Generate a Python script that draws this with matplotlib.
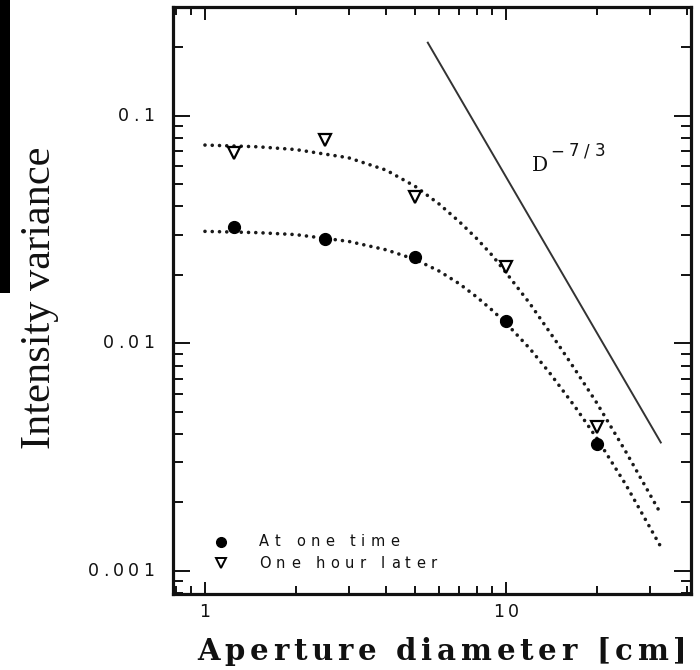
import matplotlib
matplotlib.use("Agg")
import matplotlib.pyplot as plt
from matplotlib.font_manager import FontProperties, findfont
from matplotlib.ft2font import FT2Font
from matplotlib.patches import Rectangle
from matplotlib.ticker import LogLocator, NullFormatter

# Measured intensity variance against aperture diameter
aperture_cm = [1.25, 2.5, 5.0, 10.0, 20.0]
var_at_one_time = [0.0324, 0.0287, 0.0239, 0.0125, 0.00363]
var_one_hour_later = [0.0687, 0.0784, 0.0440, 0.0216, 0.00431]

# Model curves (dotted)
fit_d_low = [1.0, 1.5, 2.0, 3.0, 4.0, 5.0, 6.0, 7.0, 8.0, 9.0, 10.0, 12.0, 14.0,
             17.0, 20.0, 25.0, 33.0]
fit_at_one_time = [0.0311, 0.0307, 0.0301, 0.0281, 0.0258, 0.0234, 0.0208, 0.0183,
                   0.0160, 0.0140, 0.0123, 0.0095, 0.0074, 0.00525, 0.00385,
                   0.00240, 0.00125]
fit_d_high = [1.0, 1.5, 2.0, 3.0, 4.0, 5.0, 6.0, 7.0, 8.0, 9.0, 10.0, 12.0, 15.0,
              17.0, 20.0, 25.0, 32.2]
fit_one_hour_later = [0.0745, 0.0732, 0.0712, 0.0655, 0.0578, 0.0490, 0.0410, 0.0343,
                      0.0289, 0.0244, 0.0205, 0.0150, 0.0098, 0.00765, 0.0055,
                      0.00335, 0.00185]

# Kolmogorov reference slope
ref_d = [5.5, 32.7]
ref_var = [0.21, 0.00367]

x_ticks = [1, 10]
x_tick_labels = ["1", "10"]
y_ticks = [0.001, 0.01, 0.1]
y_tick_labels = ["0.001", "0.01", "0.1"]

legend_labels = ["At one time", "One hour later"]

W, H, DPI = 700, 670, 100
fig = plt.figure(figsize=(W / DPI, H / DPI), dpi=DPI)
fig.patch.set_facecolor("white")

ax = fig.add_axes([173 / W, 1 - 594 / H, (691 - 173) / W, (594 - 7) / H])
ax.set_xscale("log")
ax.set_yscale("log")
ax.set_xlim(0.783, 41.2)
ax.set_ylim(0.000792, 0.3013)

ink = "#111111"
for s in ax.spines.values():
    s.set_linewidth(2.3)
    s.set_color(ink)

ax.xaxis.set_major_locator(LogLocator(base=10, numticks=10))
ax.xaxis.set_minor_locator(LogLocator(base=10, subs=range(2, 10), numticks=10))
ax.yaxis.set_major_locator(LogLocator(base=10, numticks=10))
ax.yaxis.set_minor_locator(LogLocator(base=10, subs=range(2, 10), numticks=10))
for axis in (ax.xaxis, ax.yaxis):
    axis.set_major_formatter(NullFormatter())
    axis.set_minor_formatter(NullFormatter())
ax.tick_params(which="both", direction="in", top=True, right=True, color=ink, width=1.4)
ax.tick_params(axis="x", which="major", length=9)
ax.tick_params(axis="x", which="minor", length=5.5)
ax.tick_params(axis="y", which="major", length=12)
ax.tick_params(axis="y", which="minor", length=7)

dot_style = dict(color="#1a1a1a", linewidth=2.6, linestyle=(0, (0.01, 2.0)),
                 dash_capstyle="round")
ax.plot(fit_d_low, fit_at_one_time, **dot_style)
ax.plot(fit_d_high, fit_one_hour_later, **dot_style)
ax.plot(ref_d, ref_var, color="#333333", linewidth=1.4)

ax.plot(aperture_cm, var_at_one_time, linestyle="none", marker="o", markersize=8.5,
        color="black")
ax.plot(aperture_cm, var_one_hour_later, linestyle="none", marker="v", markersize=8,
        markerfacecolor="white", markeredgecolor="black", markeredgewidth=1.6)


def tracked(x, y, s, size, family, weight="normal", track=0.0, width=None,
            ha="left", va="center", color=ink):
    """Draw text in figure pixel coordinates with extra letter spacing."""
    prop = FontProperties(family=family, size=size, weight=weight)
    font = FT2Font(findfont(prop))
    font.set_size(size, DPI)
    adv = [font.load_char(ord(c)).linearHoriAdvance / 65536 for c in s]
    if width is not None and len(s) > 1:
        track = (width - sum(adv)) / (len(s) - 1)
    total = sum(adv) + track * (len(s) - 1)
    pos = x - {"left": 0, "center": total / 2, "right": total}[ha]
    for c, a in zip(s, adv):
        if c != " ":
            fig.text(pos / W, 1 - y / H, c, fontproperties=prop, ha="left", va=va,
                     color=color)
        pos += a + track


# Tick labels placed through the axes' data transform
for v, lab in zip(y_ticks, y_tick_labels):
    px, py = ax.transData.transform((ax.get_xlim()[0], v))
    tracked(px - 19, H - py, lab, 12.5, "DejaVu Sans", track=4.2, ha="right")
for v, lab in zip(x_ticks, x_tick_labels):
    px, py = ax.transData.transform((v, ax.get_ylim()[0]))
    tracked(px, H - py + 18, lab, 12.5, "DejaVu Sans", track=4.2, ha="center")

# Legend
for i, lab in enumerate(legend_labels):
    lx, ly = 221, 542 + 21 * i
    dx, dy = ax.transData.inverted().transform((lx, H - ly))
    if i == 0:
        ax.plot([dx], [dy], marker="o", markersize=7, color="black", linestyle="none")
    else:
        ax.plot([dx], [dy], marker="v", markersize=7, markerfacecolor="white",
                markeredgecolor="black", markeredgewidth=1.4, linestyle="none")
    tracked(259, ly, lab, 10.5, "DejaVu Sans", track=5.5, ha="left")

# Slope annotation
ax.text(12.97, 0.0608, "D", family="DejaVu Serif", fontsize=14.5, ha="center",
        va="center", color=ink)
sx, sy = ax.transData.transform((14.0, 0.0700))
tracked(sx, H - sy, "\u22127/3", 12, "DejaVu Sans", width=55, ha="left")

# Axis titles
tracked(442, 651, "Aperture diameter [cm]", 21, "DejaVu Serif", weight="bold",
        width=490, ha="center")
fig.text(40 / W, 1 - 298 / H, "Intensity variance", rotation=90, ha="center",
         va="center", family="Liberation Serif", fontsize=30.5, color=ink)

# Dark strip along the left edge of the page
fig.patches.append(Rectangle((0, 1 - 293 / H), 10 / W, 293 / H, transform=fig.transFigure,
                             facecolor="black", edgecolor="none"))

fig.savefig("out.png", dpi=DPI)
